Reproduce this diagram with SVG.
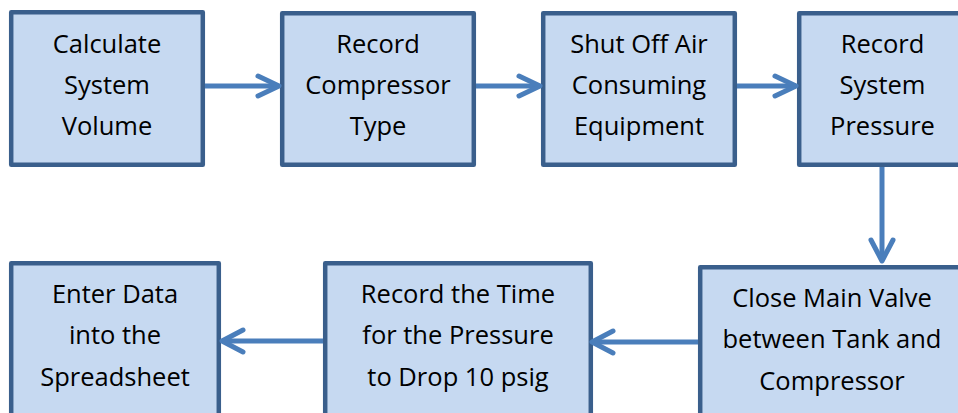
<svg xmlns="http://www.w3.org/2000/svg" width="958" height="413" viewBox="0 0 958 413">
<style>
.box{fill:#C6D9F1;stroke:#3A5F8C;stroke-width:4.5;stroke-linejoin:round}
.t{font-family:"Open Sans","Noto Sans",sans-serif;font-size:25.5px;fill:#000;text-anchor:middle}
.c{fill:none;stroke:#4A7EBB;stroke-width:5;stroke-linecap:round;stroke-linejoin:round}
.l{fill:none;stroke:#4A7EBB;stroke-width:5}
</style>
<rect width="958" height="413" fill="#fff"/>
<g id="n1"><rect class="box" x="11.2" y="12.2" width="191.6" height="152.6"/>
<text class="t" x="107" y="53">Calculate</text><text class="t" x="107" y="94">System</text><text class="t" x="107" y="135">Volume</text></g>
<g id="n2"><rect class="box" x="282.2" y="13.2" width="191.6" height="151.6"/>
<text class="t" x="378" y="53">Record</text><text class="t" x="378" y="94">Compressor</text><text class="t" x="378" y="135">Type</text></g>
<g id="n3"><rect class="box" x="543.2" y="13.2" width="191.6" height="151.6"/>
<text class="t" x="639" y="53">Shut Off Air</text><text class="t" x="639" y="94">Consuming</text><text class="t" x="639" y="135">Equipment</text></g>
<g id="n4"><rect class="box" x="799.2" y="13.2" width="170" height="151.6"/>
<text class="t" x="882.5" y="53">Record</text><text class="t" x="882.5" y="94">System</text><text class="t" x="882.5" y="135">Pressure</text></g>
<g id="n5"><rect class="box" x="700.2" y="267.2" width="270" height="160"/>
<text class="t" x="832" y="307">Close Main Valve</text><text class="t" x="832" y="348">between Tank and</text><text class="t" x="832" y="390">Compressor</text></g>
<g id="n6"><rect class="box" x="325.2" y="263.2" width="265.6" height="160"/>
<text class="t" x="458" y="303">Record the Time</text><text class="t" x="458" y="344">for the Pressure</text><text class="t" x="458" y="386">to Drop 10 psig</text></g>
<g id="n7"><rect class="box" x="11.2" y="263.2" width="207.6" height="160"/>
<text class="t" x="115" y="303">Enter Data</text><text class="t" x="115" y="344">into the</text><text class="t" x="115" y="386">Spreadsheet</text></g>
<g id="connectors">
<line class="l" x1="205" y1="86" x2="278" y2="86"/><polyline class="c" points="258,76 279,86 258,96"/>
<line class="l" x1="476" y1="86" x2="539" y2="86"/><polyline class="c" points="519,76 540,86 519,96"/>
<line class="l" x1="737" y1="86" x2="796" y2="86"/><polyline class="c" points="775,76 796,86 775,96"/>
<line class="l" x1="882" y1="167" x2="882" y2="261"/><polyline class="c" points="871,240 882,261 893,240"/>
<line class="l" x1="698" y1="342" x2="592" y2="342"/><polyline class="c" points="613,331 592,342 613,353"/>
<line class="l" x1="323" y1="341" x2="222" y2="341"/><polyline class="c" points="243,330 222,341 243,352"/>
</g>
</svg>
